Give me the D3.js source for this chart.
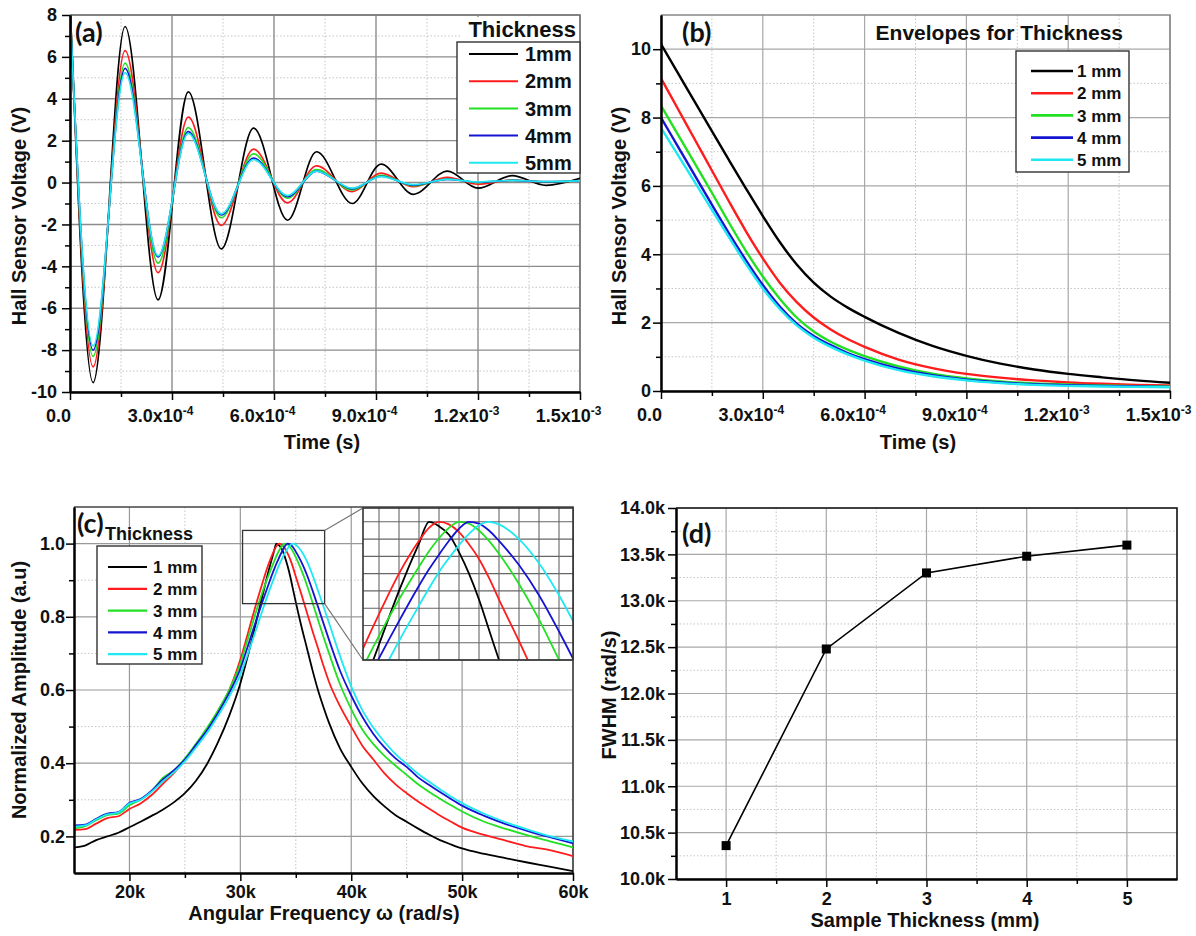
<!DOCTYPE html>
<html>
<head>
<meta charset="utf-8">
<script src="https://cdnjs.cloudflare.com/ajax/libs/d3/7.8.5/d3.min.js"></script>
<style>
  body { margin: 0; background: #fff; }
  svg text { font-family: "Liberation Sans", Arial, sans-serif; font-weight: bold; fill: #111; }
</style>
</head>
<body>
<svg id="fig" width="1196" height="936"></svg>
<script>
// ---------- data ----------
const thicknessNames = ["1mm", "2mm", "3mm", "4mm", "5mm"];
const thicknessNamesSp = ["1 mm", "2 mm", "3 mm", "4 mm", "5 mm"];
const lineColors = ["#000000", "#ff1c1c", "#22e022", "#1414d2", "#1ee8f2"];

// (a) raw signal: extrema (time in s, volts)
const timeA = [0, 0.68e-4, 1.62e-4, 2.59e-4, 3.48e-4, 4.45e-4, 5.4e-4, 6.4e-4, 7.25e-4,
  8.3e-4, 9.15e-4, 10.1e-4, 11.1e-4, 12.0e-4, 13.0e-4, 14.0e-4, 15.0e-4];
const voltA1 = [8.6, -9.55, 7.45, -5.6, 4.33, -3.17, 2.6, -1.8, 1.47, -1.0, 0.88, -0.56, 0.55, -0.27, 0.33, -0.13, 0.2];
const voltA2 = [8.5, -8.8, 6.3, -4.3, 3.12, -2.05, 1.6, -0.97, 0.8, -0.43, 0.45, -0.2, 0.25, -0.08, 0.12, 0.02, 0.08];
const voltA3 = [8.4, -8.3, 5.7, -3.85, 2.62, -1.68, 1.37, -0.75, 0.62, -0.35, 0.35, -0.15, 0.17, 0.0, 0.1, 0.03, 0.08];
const voltA4 = [8.3, -8.0, 5.45, -3.55, 2.43, -1.55, 1.17, -0.67, 0.55, -0.3, 0.3, -0.12, 0.15, 0.02, 0.1, 0.04, 0.08];
const voltA5 = [8.2, -7.8, 5.25, -3.5, 2.35, -1.5, 1.1, -0.62, 0.55, -0.27, 0.28, -0.1, 0.15, 0.03, 0.1, 0.05, 0.08];

// (b) envelopes
const timeB = [0, 0.5e-4, 1e-4, 1.5e-4, 2e-4, 2.5e-4, 3e-4, 3.5e-4, 4e-4, 4.5e-4, 5e-4, 5.5e-4, 6e-4,
  7e-4, 8e-4, 9e-4, 10e-4, 11e-4, 12e-4, 13e-4, 14e-4, 15e-4];
const envB1 = [10.15, 9.3, 8.45, 7.6, 6.76, 5.93, 5.12, 4.36, 3.7, 3.17, 2.76, 2.44, 2.17, 1.7, 1.32, 1.03, 0.8, 0.63, 0.5, 0.4, 0.31, 0.24];
const envB2 = [9.15, 8.25, 7.35, 6.45, 5.55, 4.68, 3.88, 3.17, 2.6, 2.15, 1.8, 1.52, 1.29, 0.92, 0.67, 0.5, 0.39, 0.31, 0.25, 0.21, 0.18, 0.16];
const envB3 = [8.35, 7.5, 6.65, 5.8, 4.93, 4.1, 3.35, 2.7, 2.15, 1.74, 1.44, 1.21, 1.02, 0.72, 0.51, 0.37, 0.28, 0.22, 0.19, 0.16, 0.14, 0.13];
const envB4 = [8.0, 7.15, 6.3, 5.45, 4.62, 3.83, 3.1, 2.47, 1.97, 1.61, 1.34, 1.11, 0.93, 0.65, 0.46, 0.33, 0.25, 0.2, 0.17, 0.15, 0.13, 0.12];
const envB5 = [7.7, 6.9, 6.1, 5.3, 4.5, 3.72, 3.0, 2.4, 1.92, 1.56, 1.29, 1.07, 0.89, 0.61, 0.43, 0.31, 0.23, 0.18, 0.15, 0.13, 0.12, 0.11];

// (c) normalized spectra, omega in k rad/s
const omegaC = [15, 16, 17, 18, 19, 20, 21, 22, 23, 24, 25, 26, 27, 28, 29, 30,
  30.5, 31, 31.5, 32, 32.5, 33,
  33.25, 33.5, 33.75, 34, 34.25, 34.5, 34.75, 35,
  35.5, 36, 36.5, 37, 37.5, 38,
  39, 40, 41, 42, 43, 44, 45, 46, 47, 48, 49, 50,
  52, 54, 56, 58, 60];
const ampC1 = [.17, .175, .19, .2, .21, .225, .24, .256, .273, .293, .318, .352, .398, .458, .53, .618,
  .673, .732, .795, .858, .92, .975,
  1.0, .995, .985, .965, .94, .91, .875, .84,
  .775, .715, .655, .6, .553, .51,
  .44, .39, .345, .31, .282, .258, .24, .222, .205, .19, .178, .167,
  .152, .14, .128, .117, .105];
const ampC2 = [.218, .22, .235, .25, .255, .275, .29, .313, .343, .373, .408, .448, .493, .543, .6, .683,
  .735, .79, .843, .893, .94, .978,
  .993, 1.0, .997, .988, .974, .957, .935, .91,
  .862, .812, .762, .715, .666, .622,
  .555, .5, .448, .41, .372, .342, .318, .296, .276, .257, .24, .224,
  .204, .188, .172, .162, .146];
const ampC3 = [.222, .228, .244, .258, .262, .285, .3, .323, .36, .38, .413, .453, .497, .545, .6, .672,
  .722, .772, .822, .868, .91, .948,
  .966, .981, .993, 1.0, .998, .99, .978, .963,
  .928, .887, .84, .792, .745, .7,
  .615, .548, .492, .452, .42, .393, .368, .343, .322, .303, .285, .268,
  .24, .22, .202, .186, .17];
const ampC4 = [.23, .232, .248, .262, .266, .292, .302, .325, .355, .38, .41, .45, .49, .538, .592, .658,
  .703, .75, .797, .842, .885, .926,
  .945, .962, .978, .992, 1.0, .998, .99, .978,
  .95, .915, .873, .828, .782, .737,
  .652, .585, .527, .48, .443, .413, .39, .362, .341, .321, .302, .284,
  .256, .233, .214, .197, .181];
const ampC5 = [.227, .23, .246, .26, .265, .29, .3, .322, .35, .375, .405, .443, .483, .53, .582, .642,
  .683, .727, .772, .818, .862, .903,
  .923, .942, .958, .973, .986, .996, 1.0, .997,
  .98, .952, .915, .872, .828, .783,
  .692, .61, .545, .497, .458, .425, .398, .372, .35, .329, .309, .291,
  .262, .238, .218, .2, .186];
const zoomBoxC = [30.2, 37.6, 0.836, 1.036];   // region magnified in the inset
const insetDomX = [31.6, 36.85];
const insetDomY = [0.84, 1.016];

// (d) FWHM vs thickness
const thicknessD = [1, 2, 3, 4, 5];
const fwhmD = [10360, 12480, 13300, 13480, 13600];

// ticks
const timeTicks = [0, 3e-4, 6e-4, 9e-4, 1.2e-3, 1.5e-3];
const timeMinor = [1.5e-4, 4.5e-4, 7.5e-4, 1.05e-3, 1.35e-3];
const timeTickMant = ["0.0", "3.0x10", "6.0x10", "9.0x10", "1.2x10", "1.5x10"];
const timeTickExp = ["", "-4", "-4", "-4", "-3", "-3"];
const voltTicksA = [-10, -8, -6, -4, -2, 0, 2, 4, 6, 8];
const voltMinorA = [-9, -7, -5, -3, -1, 1, 3, 5, 7];
const voltTicksB = [0, 2, 4, 6, 8, 10];
const voltMinorB = [1, 3, 5, 7, 9];
const omegaTicks = [20, 30, 40, 50, 60];
const omegaMinor = [25, 35, 45, 55];
const ampTicks = [0.2, 0.4, 0.6, 0.8, 1.0];
const ampMinor = [0.3, 0.5, 0.7, 0.9];
const thickTicks = [1, 2, 3, 4, 5];
const thickMinor = [1.5, 2.5, 3.5, 4.5];
const fwhmTicks = [10000, 10500, 11000, 11500, 12000, 12500, 13000, 13500, 14000];
const fwhmMinor = [10250, 10750, 11250, 11750, 12250, 12750, 13250, 13750];

// ---------- drawing ----------
const svg = d3.select("#fig");
const defs = svg.append("defs");
let clipN = 0;

const txt = (g, x, y, s, size, anchor, rot) => {
    const t = g.append("text").attr("x", x).attr("y", y).text(s)
        .style("font-size", size + "px").attr("text-anchor", anchor || "start");
    if (rot) t.attr("transform", `rotate(-90,${x},${y})`);
    return t;
};

function panel(c) {
    const x = d3.scaleLinear().domain(c.xDom).range([c.left, c.right]);
    const y = d3.scaleLinear().domain(c.yDom).range([c.bottom, c.top]);
    const g = svg.append("g");

    // grid: dotted minor, solid major
    g.append("g").selectAll("line").data(c.xMinor).join("line")
        .attr("x1", d => x(d)).attr("x2", d => x(d)).attr("y1", c.top).attr("y2", c.bottom)
        .attr("stroke", "#c4c4c4").attr("stroke-dasharray", "1.5,2");
    g.append("g").selectAll("line").data(c.yMinor).join("line")
        .attr("y1", d => y(d)).attr("y2", d => y(d)).attr("x1", c.left).attr("x2", c.right)
        .attr("stroke", "#c4c4c4").attr("stroke-dasharray", "1.5,2");
    g.append("g").selectAll("line").data(c.xMajor).join("line")
        .attr("x1", d => x(d)).attr("x2", d => x(d)).attr("y1", c.top).attr("y2", c.bottom)
        .attr("stroke", c.grid).attr("stroke-width", c.gridW);
    g.append("g").selectAll("line").data(c.yMajor).join("line")
        .attr("y1", d => y(d)).attr("y2", d => y(d)).attr("x1", c.left).attr("x2", c.right)
        .attr("stroke", c.grid).attr("stroke-width", c.gridW);

    // top / right frame
    g.append("path")
        .attr("d", `M${c.left},${c.top}H${c.right}V${c.bottom}`)
        .attr("fill", "none").attr("stroke", c.frame).attr("stroke-width", 1.6);

    const id = "clip" + (clipN++);
    defs.append("clipPath").attr("id", id).append("rect")
        .attr("x", c.left).attr("y", c.top).attr("width", c.right - c.left).attr("height", c.bottom - c.top);
    const plot = g.append("g").attr("clip-path", `url(#${id})`);

    // axes
    const styleAxis = a => {
        a.attr("font-size", null).attr("font-family", null);
        a.select(".domain").attr("stroke", "#000").attr("stroke-width", 2);
        a.selectAll(".tick line").attr("stroke", "#000").attr("stroke-width", 1.5);
        a.selectAll(".tick text").style("font-size", "18px");
    };
    const axes = g.append("g");
    axes.append("g").attr("transform", `translate(0,${c.bottom})`)
        .call(d3.axisBottom(x).tickValues(c.xMinor).tickSize(5).tickSizeOuter(0).tickFormat(""))
        .call(styleAxis);
    const xa = axes.append("g").attr("transform", `translate(0,${c.bottom})`)
        .call(d3.axisBottom(x).tickValues(c.xMajor).tickSize(8).tickSizeOuter(0)
            .tickPadding(c.xPad).tickFormat((d, i) => c.xLabels[i]))
        .call(styleAxis);
    axes.append("g").attr("transform", `translate(${c.left},0)`)
        .call(d3.axisLeft(y).tickValues(c.yMinor).tickSize(5).tickSizeOuter(0).tickFormat(""))
        .call(styleAxis);
    axes.append("g").attr("transform", `translate(${c.left},0)`)
        .call(d3.axisLeft(y).tickValues(c.yMajor).tickSize(8).tickSizeOuter(0)
            .tickPadding(c.yPad).tickFormat((d, i) => c.yLabels[i]))
        .call(styleAxis);

    if (c.xExp) {
        xa.selectAll(".tick text").attr("x", -12).each(function (d, i) {
            if (c.xExp[i]) d3.select(this).append("tspan").attr("dy", -7)
                .style("font-size", "12px").text(c.xExp[i]);
        });
    }
    return { g, plot, axes, x, y };
}

function legend(g, o) {
    g.append("rect").attr("x", o.x0).attr("y", o.y0).attr("width", o.x1 - o.x0).attr("height", o.y1 - o.y0)
        .attr("fill", "#fff").attr("stroke", "#333").attr("stroke-width", 1.4);
    o.names.forEach((n, i) => {
        const cy = o.first + i * o.step;
        g.append("line").attr("x1", o.lx0).attr("x2", o.lx1).attr("y1", cy).attr("y2", cy)
            .attr("stroke", lineColors[i]).attr("stroke-width", o.lw);
        txt(g, o.tx, cy + o.size * 0.36, n, o.size);
    });
}

// ----- (a) -----
const pa = panel({
    left: 70, right: 580, top: 15, bottom: 392, xDom: [0, 1.5e-3], yDom: [-10, 8],
    xMajor: timeTicks, xMinor: timeMinor, yMajor: voltTicksA, yMinor: voltMinorA,
    xLabels: timeTickMant, xExp: timeTickExp, yLabels: voltTicksA.map(String),
    xPad: 9, yPad: 5, grid: "#8c8c8c", gridW: 1.4, frame: "#777"
});
const lineA = d3.line().x((d, i) => pa.x(timeA[i])).y(d => pa.y(d)).curve(d3.curveMonotoneX);
pa.plot.selectAll("path").data([voltA1, voltA2, voltA3, voltA4, voltA5]).join("path")
    .attr("d", lineA).attr("fill", "none").attr("stroke", (d, i) => lineColors[i]).attr("stroke-width", 1.7);
txt(pa.g, 75, 42, "(a)", 27).style("font-family", "Lato, 'Open Sans', sans-serif");
pa.g.append("rect").attr("x", 460).attr("y", 17).attr("width", 119).attr("height", 25).attr("fill", "#fff");
txt(pa.g, 576, 37, "Thickness", 22, "end");
legend(pa.g, { x0: 457, x1: 580, y0: 42, y1: 173, names: thicknessNames, first: 54, step: 27.2,
    lx0: 469, lx1: 518, tx: 525, size: 20, lw: 2 });
txt(pa.g, 322, 449, "Time (s)", 20, "middle");
txt(pa.g, 26, 216, "Hall Sensor Voltage (V)", 20, "middle", true);

// ----- (b) -----
const pb = panel({
    left: 661, right: 1170, top: 15, bottom: 391, xDom: [0, 1.5e-3], yDom: [0, 11],
    xMajor: timeTicks, xMinor: timeMinor, yMajor: voltTicksB, yMinor: voltMinorB,
    xLabels: timeTickMant, xExp: timeTickExp, yLabels: voltTicksB.map(String),
    xPad: 9, yPad: 2, grid: "#a8a8a8", gridW: 1.2, frame: "#888"
});
const lineB = d3.line().x((d, i) => pb.x(timeB[i])).y(d => pb.y(d)).curve(d3.curveMonotoneX);
pb.plot.selectAll("path").data([envB1, envB2, envB3, envB4, envB5]).join("path")
    .attr("d", lineB).attr("fill", "none").attr("stroke", (d, i) => lineColors[i]).attr("stroke-width", 2.4);
txt(pb.g, 682, 42, "(b)", 27).style("font-family", "Lato, 'Open Sans', sans-serif");
txt(pb.g, 1123, 40, "Envelopes for Thickness", 21, "end");
legend(pb.g, { x0: 1016, x1: 1129, y0: 51, y1: 172, names: thicknessNamesSp, first: 71, step: 22.2,
    lx0: 1031, lx1: 1073, tx: 1077, size: 17, lw: 2.6 });
txt(pb.g, 918, 449, "Time (s)", 20, "middle");
txt(pb.g, 626, 216, "Hall Sensor Voltage (V)", 20, "middle", true);

// ----- (c) -----
const pc = panel({
    left: 74, right: 573, top: 507, bottom: 873, xDom: [15, 60], yDom: [0.1, 1.1],
    xMajor: omegaTicks, xMinor: omegaMinor, yMajor: ampTicks, yMinor: ampMinor,
    xLabels: omegaTicks.map(d => d + "k"), yLabels: ampTicks.map(d => d.toFixed(1)),
    xPad: 4, yPad: 1, grid: "#999", gridW: 1.2, frame: "#444"
});
const ampC = [ampC1, ampC2, ampC3, ampC4, ampC5];
const lineC = d3.line().x((d, i) => pc.x(omegaC[i])).y(d => pc.y(d)).curve(d3.curveMonotoneX);
pc.plot.selectAll("path").data(ampC).join("path")
    .attr("d", lineC).attr("fill", "none").attr("stroke", (d, i) => lineColors[i]).attr("stroke-width", 1.8);

// zoom box + inset
const bx0 = pc.x(zoomBoxC[0]), bx1 = pc.x(zoomBoxC[1]), by0 = pc.y(zoomBoxC[3]), by1 = pc.y(zoomBoxC[2]);
pc.g.append("rect").attr("x", bx0).attr("y", by0).attr("width", bx1 - bx0).attr("height", by1 - by0)
    .attr("fill", "none").attr("stroke", "#333").attr("stroke-width", 1.3);
const xi = d3.scaleLinear().domain(insetDomX).range([363, 573]);
const yi = d3.scaleLinear().domain(insetDomY).range([660, 508]);
pc.g.append("line").attr("x1", bx1).attr("y1", by0).attr("x2", 363).attr("y2", 508).attr("stroke", "#777").attr("stroke-width", 1.2);
pc.g.append("line").attr("x1", bx1).attr("y1", by1).attr("x2", 363).attr("y2", 660).attr("stroke", "#777").attr("stroke-width", 1.2);
const ins = pc.g.append("g");
ins.append("rect").attr("x", 363).attr("y", 508).attr("width", 210).attr("height", 152).attr("fill", "#fff");
ins.selectAll(".gx").data(xi.ticks(10)).join("line").attr("class", "gx")
    .attr("x1", d => xi(d)).attr("x2", d => xi(d)).attr("y1", 508).attr("y2", 660)
    .attr("stroke", "#666").attr("stroke-width", 1.1);
ins.selectAll(".gy").data(yi.ticks(10)).join("line").attr("class", "gy")
    .attr("y1", d => yi(d)).attr("y2", d => yi(d)).attr("x1", 363).attr("x2", 573)
    .attr("stroke", "#666").attr("stroke-width", 1.1);
defs.append("clipPath").attr("id", "clipInset").append("rect")
    .attr("x", 363).attr("y", 508).attr("width", 210).attr("height", 152);
const lineI = d3.line().x((d, i) => xi(omegaC[i])).y(d => yi(d)).curve(d3.curveMonotoneX);
ins.append("g").attr("clip-path", "url(#clipInset)").selectAll("path").data(ampC).join("path")
    .attr("d", lineI).attr("fill", "none").attr("stroke", (d, i) => lineColors[i]).attr("stroke-width", 1.8);
ins.append("rect").attr("x", 363).attr("y", 508).attr("width", 210).attr("height", 152)
    .attr("fill", "none").attr("stroke", "#333").attr("stroke-width", 1.6);
pc.g.node().appendChild(pc.axes.node());

txt(pc.g, 77, 533, "(c)", 27).style("font-family", "Lato, 'Open Sans', sans-serif");
txt(pc.g, 105, 540, "Thickness", 18);
legend(pc.g, { x0: 97, x1: 202, y0: 546, y1: 664, names: thicknessNamesSp, first: 567, step: 21.8,
    lx0: 108, lx1: 147, tx: 153, size: 17, lw: 2.2 });
txt(pc.g, 324, 920, "Angular Frequency \u03c9 (rad/s)", 20, "middle");
txt(pc.g, 26, 690, "Normalized Amplitude (a.u)", 20, "middle", true);

// ----- (d) -----
const pd = panel({
    left: 676, right: 1177, top: 508, bottom: 879, xDom: [0.5, 5.5], yDom: [10000, 14000],
    xMajor: thickTicks, xMinor: thickMinor, yMajor: fwhmTicks, yMinor: fwhmMinor,
    xLabels: thickTicks.map(String), yLabels: fwhmTicks.map(d => (d / 1000).toFixed(1) + "k"),
    xPad: 5, yPad: 3, grid: "#a8a8a8", gridW: 1.2, frame: "#111"
});
pd.plot.append("path").datum(fwhmD)
    .attr("d", d3.line().x((d, i) => pd.x(thicknessD[i])).y(d => pd.y(d)))
    .attr("fill", "none").attr("stroke", "#000").attr("stroke-width", 1.6);
pd.g.selectAll(".pt").data(fwhmD).join("rect").attr("class", "pt")
    .attr("x", (d, i) => pd.x(thicknessD[i]) - 4.5).attr("y", d => pd.y(d) - 4.5)
    .attr("width", 9).attr("height", 9).attr("fill", "#000");
txt(pd.g, 682, 543, "(d)", 27).style("font-family", "Lato, 'Open Sans', sans-serif");
txt(pd.g, 925, 927, "Sample Thickness (mm)", 20, "middle");
txt(pd.g, 616, 695, "FWHM (rad/s)", 20, "middle", true);
</script>
</body>
</html>
